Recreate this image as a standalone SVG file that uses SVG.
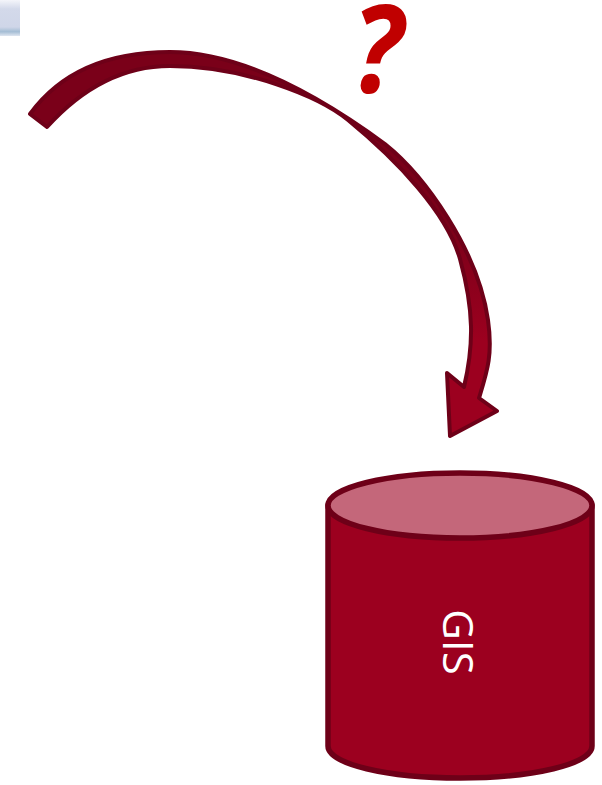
<svg xmlns="http://www.w3.org/2000/svg" width="602" height="785" viewBox="0 0 602 785">
<style>
.cyl{stroke:#6e0018;stroke-width:5.5;stroke-linejoin:round}
.t{font-family:"Open Sans","Liberation Sans",sans-serif}
</style>
<defs>
<linearGradient id="tab" x1="0" y1="0" x2="0" y2="1">
<stop offset="0" stop-color="#f4f5fa"/><stop offset="0.25" stop-color="#d3d9ea"/><stop offset="0.75" stop-color="#cfd6e8"/><stop offset="0.88" stop-color="#a4bdd4"/><stop offset="1" stop-color="#dfe6f0"/>
</linearGradient>
<linearGradient id="arrowFill" gradientUnits="userSpaceOnUse" x1="0" y1="50" x2="0" y2="438">
<stop offset="0" stop-color="#7a0019"/><stop offset="0.45" stop-color="#7a0019"/><stop offset="0.75" stop-color="#9c001f"/><stop offset="1" stop-color="#9c001f"/>
</linearGradient>
</defs>
<rect id="corner-tab" x="0" y="0" width="20" height="36" fill="url(#tab)"/>
<g id="connectors">
<path d="M30 114 C62 70 112 52 170 52 C245 52 325 100 385 144 C425 176 478 250 488 320 C493 355 487 372 479 398 L497 411 L450 436 L447 373 L464 387 C474 345 474 310 460 259 C447 213 398 161 348 120 C320 97 245 66 170 66 C125 66 85 85 47 127 Z" fill="url(#arrowFill)" stroke="#6e0018" stroke-width="4" stroke-linejoin="round"/>
</g>
<g id="question">
<text class="t" transform="translate(352 92) scale(0.91 1)" font-size="122" font-weight="700" font-style="italic" fill="#c00000">?</text>
</g>
<g id="gis">
<path class="cyl" d="M328 505 V746 C328 764 387 778 460 778 C533 778 592 764 592 746 V505 Z" fill="#9c001f"/>
<ellipse class="cyl" cx="460" cy="505.5" rx="132" ry="32.5" fill="#c4677a"/>
<text class="t" transform="translate(443 642) rotate(90)" font-size="42" text-anchor="middle" fill="#ffffff">GIS</text>
</g>
</svg>
